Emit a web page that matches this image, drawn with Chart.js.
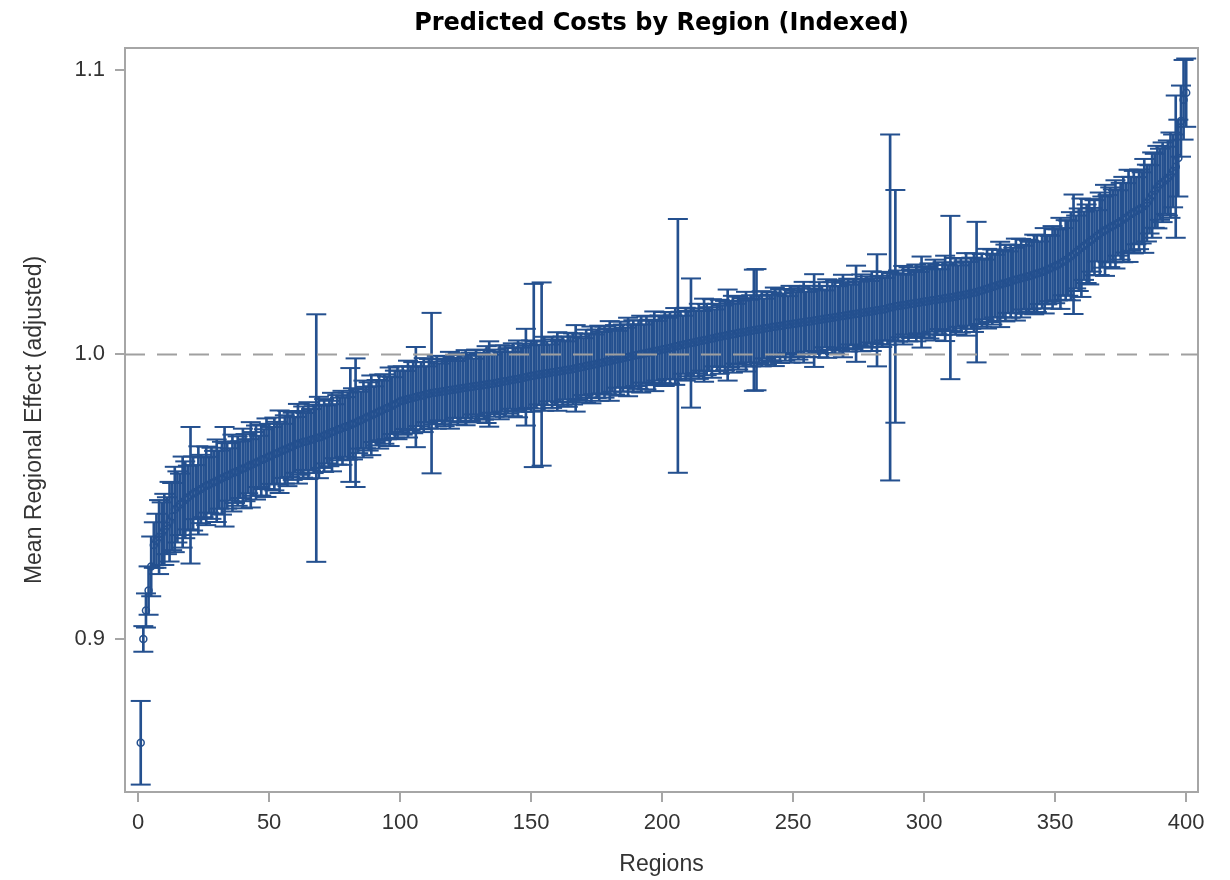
<!DOCTYPE html>
<html>
<head>
<meta charset="utf-8">
<title>Predicted Costs by Region (Indexed)</title>
<script src="https://cdn.jsdelivr.net/npm/chart.js@4.4.1/dist/chart.umd.min.js"></script>
<style>
  html, body { margin: 0; padding: 0; background: #fff; }
  #chart { display: block; }
</style>
</head>
<body>
<canvas id="chart" width="1230" height="880"></canvas>
<script>
// mean regional effect, sorted (regions 1..400)
const means = [
  0.8635, 0.9000, 0.9100, 0.9170, 0.9255, 0.9330, 0.9345, 0.9358, 0.9370, 0.9385,
  0.9398, 0.9412, 0.9430, 0.9455, 0.9464, 0.9473, 0.9481, 0.9489, 0.9497, 0.9505,
  0.9511, 0.9516, 0.9522, 0.9527, 0.9533, 0.9538, 0.9542, 0.9547, 0.9551, 0.9556,
  0.9560, 0.9565, 0.9570, 0.9573, 0.9578, 0.9583, 0.9586, 0.9590, 0.9595, 0.9599,
  0.9602, 0.9607, 0.9612, 0.9615, 0.9620, 0.9624, 0.9629, 0.9632, 0.9637, 0.9641,
  0.9645, 0.9650, 0.9653, 0.9658, 0.9661, 0.9666, 0.9669, 0.9674, 0.9677, 0.9682,
  0.9686, 0.9689, 0.9692, 0.9694, 0.9697, 0.9700, 0.9703, 0.9706, 0.9708, 0.9711,
  0.9715, 0.9719, 0.9722, 0.9727, 0.9730, 0.9735, 0.9738, 0.9742, 0.9745, 0.9748,
  0.9752, 0.9756, 0.9760, 0.9765, 0.9769, 0.9773, 0.9778, 0.9782, 0.9786, 0.9790,
  0.9795, 0.9799, 0.9803, 0.9808, 0.9812, 0.9816, 0.9820, 0.9825, 0.9830, 0.9835,
  0.9838, 0.9840, 0.9843, 0.9845, 0.9848, 0.9850, 0.9853, 0.9855, 0.9857, 0.9860,
  0.9862, 0.9864, 0.9865, 0.9867, 0.9868, 0.9870, 0.9871, 0.9873, 0.9874, 0.9876,
  0.9877, 0.9879, 0.9880, 0.9882, 0.9883, 0.9885, 0.9886, 0.9887, 0.9889, 0.9890,
  0.9891, 0.9893, 0.9894, 0.9896, 0.9897, 0.9899, 0.9900, 0.9902, 0.9904, 0.9906,
  0.9907, 0.9909, 0.9911, 0.9913, 0.9914, 0.9916, 0.9918, 0.9920, 0.9922, 0.9924,
  0.9926, 0.9928, 0.9929, 0.9931, 0.9932, 0.9934, 0.9935, 0.9937, 0.9938, 0.9940,
  0.9941, 0.9943, 0.9944, 0.9946, 0.9947, 0.9949, 0.9951, 0.9953, 0.9955, 0.9957,
  0.9959, 0.9961, 0.9963, 0.9965, 0.9967, 0.9969, 0.9971, 0.9973, 0.9975, 0.9977,
  0.9979, 0.9981, 0.9983, 0.9985, 0.9987, 0.9989, 0.9991, 0.9993, 0.9995, 0.9997,
  0.9999, 1.0001, 1.0003, 1.0005, 1.0007, 1.0009, 1.0011, 1.0013, 1.0015, 1.0017,
  1.0019, 1.0021, 1.0023, 1.0025, 1.0028, 1.0030, 1.0032, 1.0034, 1.0036, 1.0038,
  1.0040, 1.0042, 1.0044, 1.0046, 1.0048, 1.0050, 1.0052, 1.0054, 1.0056, 1.0058,
  1.0060, 1.0062, 1.0064, 1.0066, 1.0068, 1.0070, 1.0071, 1.0073, 1.0075, 1.0077,
  1.0078, 1.0080, 1.0082, 1.0083, 1.0085, 1.0087, 1.0088, 1.0090, 1.0091, 1.0093,
  1.0094, 1.0096, 1.0097, 1.0099, 1.0100, 1.0102, 1.0103, 1.0105, 1.0106, 1.0108,
  1.0109, 1.0110, 1.0112, 1.0113, 1.0115, 1.0116, 1.0117, 1.0119, 1.0120, 1.0122,
  1.0123, 1.0125, 1.0126, 1.0128, 1.0129, 1.0131, 1.0132, 1.0134, 1.0135, 1.0137,
  1.0138, 1.0140, 1.0141, 1.0143, 1.0144, 1.0146, 1.0147, 1.0149, 1.0150, 1.0152,
  1.0153, 1.0155, 1.0156, 1.0158, 1.0159, 1.0162, 1.0165, 1.0167, 1.0169, 1.0170,
  1.0172, 1.0173, 1.0175, 1.0176, 1.0178, 1.0179, 1.0181, 1.0182, 1.0184, 1.0185,
  1.0187, 1.0188, 1.0190, 1.0191, 1.0193, 1.0194, 1.0196, 1.0197, 1.0199, 1.0200,
  1.0202, 1.0204, 1.0205, 1.0207, 1.0209, 1.0211, 1.0213, 1.0215, 1.0217, 1.0219,
  1.0222, 1.0225, 1.0228, 1.0231, 1.0234, 1.0237, 1.0240, 1.0243, 1.0246, 1.0249,
  1.0251, 1.0254, 1.0257, 1.0260, 1.0263, 1.0265, 1.0268, 1.0270, 1.0273, 1.0275,
  1.0278, 1.0281, 1.0284, 1.0287, 1.0290, 1.0294, 1.0298, 1.0302, 1.0306, 1.0310,
  1.0315, 1.0320, 1.0326, 1.0332, 1.0338, 1.0345, 1.0352, 1.0360, 1.0368, 1.0375,
  1.0382, 1.0389, 1.0396, 1.0403, 1.0410, 1.0417, 1.0424, 1.0430, 1.0436, 1.0442,
  1.0447, 1.0452, 1.0457, 1.0462, 1.0468, 1.0474, 1.0480, 1.0487, 1.0494, 1.0500,
  1.0505, 1.0510, 1.0515, 1.0522, 1.0532, 1.0545, 1.0560, 1.0575, 1.0588, 1.0598,
  1.0605, 1.0612, 1.0620, 1.0630, 1.0645, 1.0660, 1.0690, 1.0820, 1.0895, 1.0920
];

// half width of each interval
const halfWidths = [
  0.0147, 0.0045, 0.0060, 0.0085, 0.0105, 0.0080, 0.0095, 0.0130, 0.0110, 0.0125,
  0.0100, 0.0140, 0.0118, 0.0150, 0.0125, 0.0108, 0.0160, 0.0135, 0.0112, 0.0240,
  0.0130, 0.0095, 0.0155, 0.0120, 0.0105, 0.0138, 0.0098, 0.0125, 0.0110, 0.0145,
  0.0102, 0.0128, 0.0175, 0.0115, 0.0092, 0.0135, 0.0108, 0.0122, 0.0100, 0.0140,
  0.0118, 0.0095, 0.0150, 0.0112, 0.0130, 0.0090, 0.0125, 0.0105, 0.0138, 0.0115,
  0.0100, 0.0128, 0.0110, 0.0145, 0.0095, 0.0120, 0.0132, 0.0105, 0.0118, 0.0098,
  0.0140, 0.0112, 0.0125, 0.0100, 0.0135, 0.0108, 0.0120, 0.0435, 0.0143, 0.0110,
  0.0128, 0.0102, 0.0115, 0.0138, 0.0095, 0.0122, 0.0110, 0.0130, 0.0105, 0.0118,
  0.0200, 0.0125, 0.0226, 0.0112, 0.0100, 0.0135, 0.0108, 0.0120, 0.0140, 0.0098,
  0.0115, 0.0130, 0.0105, 0.0122, 0.0110, 0.0138, 0.0100, 0.0118, 0.0128, 0.0108,
  0.0120, 0.0102, 0.0135, 0.0112, 0.0125, 0.0176, 0.0105, 0.0118, 0.0130, 0.0098,
  0.0122, 0.0282, 0.0110, 0.0128, 0.0100, 0.0115, 0.0123, 0.0108, 0.0135, 0.0112,
  0.0100, 0.0125, 0.0118, 0.0105, 0.0132, 0.0110, 0.0120, 0.0098, 0.0128, 0.0115,
  0.0108, 0.0122, 0.0135, 0.0150, 0.0102, 0.0118, 0.0110, 0.0130, 0.0105, 0.0125,
  0.0115, 0.0100, 0.0128, 0.0112, 0.0135, 0.0108, 0.0120, 0.0170, 0.0110, 0.0125,
  0.0322, 0.0118, 0.0105, 0.0322, 0.0130, 0.0112, 0.0100, 0.0125, 0.0115, 0.0138,
  0.0108, 0.0120, 0.0102, 0.0130, 0.0115, 0.0125, 0.0152, 0.0110, 0.0118, 0.0100,
  0.0128, 0.0112, 0.0135, 0.0105, 0.0120, 0.0132, 0.0108, 0.0125, 0.0115, 0.0140,
  0.0110, 0.0122, 0.0100, 0.0130, 0.0118, 0.0105, 0.0138, 0.0112, 0.0125, 0.0108,
  0.0120, 0.0135, 0.0102, 0.0128, 0.0115, 0.0110, 0.0140, 0.0105, 0.0122, 0.0118,
  0.0130, 0.0108, 0.0125, 0.0112, 0.0135, 0.0446, 0.0118, 0.0102, 0.0128, 0.0115,
  0.0227, 0.0120, 0.0110, 0.0132, 0.0105, 0.0146, 0.0125, 0.0112, 0.0138, 0.0100,
  0.0118, 0.0130, 0.0108, 0.0122, 0.0160, 0.0115, 0.0135, 0.0105, 0.0128, 0.0112,
  0.0120, 0.0140, 0.0110, 0.0125, 0.0213, 0.0213, 0.0118, 0.0132, 0.0105, 0.0128,
  0.0115, 0.0122, 0.0138, 0.0108, 0.0130, 0.0112, 0.0125, 0.0100, 0.0135, 0.0118,
  0.0110, 0.0128, 0.0120, 0.0142, 0.0105, 0.0125, 0.0115, 0.0163, 0.0108, 0.0132,
  0.0118, 0.0100, 0.0138, 0.0112, 0.0125, 0.0130, 0.0108, 0.0120, 0.0145, 0.0115,
  0.0128, 0.0105, 0.0122, 0.0169, 0.0112, 0.0135, 0.0118, 0.0125, 0.0108, 0.0140,
  0.0115, 0.0197, 0.0120, 0.0132, 0.0110, 0.0128, 0.0608, 0.0118, 0.0409, 0.0125,
  0.0112, 0.0138, 0.0105, 0.0130, 0.0120, 0.0115, 0.0135, 0.0108, 0.0160, 0.0125,
  0.0118, 0.0132, 0.0110, 0.0142, 0.0122, 0.0105, 0.0128, 0.0150, 0.0115, 0.0287,
  0.0120, 0.0135, 0.0108, 0.0130, 0.0118, 0.0145, 0.0112, 0.0125, 0.0138, 0.0247,
  0.0115, 0.0128, 0.0105, 0.0140, 0.0120, 0.0132, 0.0110, 0.0125, 0.0150, 0.0118,
  0.0135, 0.0108, 0.0128, 0.0115, 0.0144, 0.0120, 0.0138, 0.0112, 0.0130, 0.0125,
  0.0118, 0.0140, 0.0135, 0.0110, 0.0128, 0.0150, 0.0122, 0.0115, 0.0145, 0.0130,
  0.0125, 0.0160, 0.0118, 0.0140, 0.0132, 0.0155, 0.0210, 0.0128, 0.0145, 0.0173,
  0.0120, 0.0138, 0.0150, 0.0112, 0.0132, 0.0090, 0.0145, 0.0125, 0.0160, 0.0118,
  0.0140, 0.0128, 0.0155, 0.0115, 0.0135, 0.0150, 0.0122, 0.0162, 0.0130, 0.0145,
  0.0118, 0.0140, 0.0125, 0.0165, 0.0135, 0.0120, 0.0150, 0.0130, 0.0145, 0.0125,
  0.0140, 0.0118, 0.0132, 0.0150, 0.0128, 0.0250, 0.0135, 0.0125, 0.0140, 0.0120
];

const xTicks = [0, 50, 100, 150, 200, 250, 300, 350, 400];
const yTicks = [0.9, 1.0, 1.1];
const refValue = 1.0;

const BLUE = '#24508f';
const FRAME = '#a6a6a6';

// region number = rank
const regionIds = means.map((_, i) => i + 1);
const lower = means.map((m, i) => m - halfWidths[i]);
const upper = means.map((m, i) => m + halfWidths[i]);

const X_MIN = -5, X_MAX = 404.5;
const Y_MIN = 0.8462, Y_MAX = 1.1077;

const tickFont = { family: 'Liberation Sans', size: 22 };
const labelFont = { family: 'Liberation Sans', size: 23 };

new Chart(document.getElementById('chart'), {
  type: 'scatter',
  data: {
    datasets: [
      {
        type: 'line',
        data: [{ x: X_MIN, y: refValue }, { x: X_MAX, y: refValue }],
        borderColor: '#a0a0a0',
        borderWidth: 2,
        borderDash: [20, 12],
        pointRadius: 0,
        order: 1,
      },
      {
        // circles at the means
        data: regionIds.map((r, i) => ({ x: r, y: means[i] })),
        pointStyle: 'circle',
        pointRadius: 3.5,
        borderWidth: 1.5,
        borderColor: BLUE,
        backgroundColor: 'rgba(0,0,0,0)',
        order: 2,
      },
      {
        // upper caps
        data: regionIds.map((r, i) => ({ x: r, y: upper[i] })),
        pointStyle: 'line',
        pointRadius: 10,
        borderWidth: 2,
        borderColor: BLUE,
        order: 3,
      },
      {
        // lower caps
        data: regionIds.map((r, i) => ({ x: r, y: lower[i] })),
        pointStyle: 'line',
        pointRadius: 10,
        borderWidth: 2,
        borderColor: BLUE,
        order: 3,
      },
      {
        // interval stems
        type: 'bar',
        data: regionIds.map((r, i) => ({ x: r, y: [lower[i], upper[i]] })),
        backgroundColor: BLUE,
        borderWidth: 0,
        barThickness: 2,
        order: 4,
      },
    ],
  },
  options: {
    responsive: false,
    animation: false,
    devicePixelRatio: 1,
    layout: { padding: { left: 0, right: 32, top: 0, bottom: 0 } },
    plugins: {
      legend: { display: false },
      tooltip: { enabled: false },
      title: {
        display: true,
        fullSize: false,
        text: 'Predicted Costs by Region (Indexed)',
        color: '#000',
        font: { family: 'DejaVu Sans', size: 24, weight: 'bold' },
        padding: { top: 9, bottom: 10.2 },
      },
    },
    scales: {
      x: {
        type: 'linear',
        min: X_MIN,
        max: X_MAX,
        offset: false,
        afterBuildTicks: s => { s.ticks = xTicks.map(v => ({ value: v })); },
        afterFit: s => { s.height = 88; },
        ticks: { font: tickFont, color: '#333', padding: 8, maxRotation: 0, autoSkip: false, callback: v => String(v) },
        grid: { display: true, offset: false, drawOnChartArea: false, drawTicks: true, tickLength: 10, color: FRAME, lineWidth: 2 },
        border: { display: true, color: FRAME, width: 2 },
        title: { display: true, text: 'Regions', font: labelFont, color: '#333', padding: { top: 0, bottom: 2 } },
      },
      y: {
        type: 'linear',
        min: Y_MIN,
        max: Y_MAX,
        afterBuildTicks: s => { s.ticks = yTicks.map(v => ({ value: v })); },
        afterFit: s => { s.width = 125; },
        ticks: { font: tickFont, color: '#333', padding: 10, autoSkip: false, callback: v => v.toFixed(1) },
        grid: { display: true, drawOnChartArea: false, drawTicks: true, tickLength: 10, color: FRAME, lineWidth: 2 },
        border: { display: true, color: FRAME, width: 2 },
        title: { display: true, text: 'Mean Regional Effect (adjusted)', font: labelFont, color: '#333', padding: { top: 21, bottom: 0 } },
      },
      // top and right frame
      xTop: {
        type: 'linear',
        position: 'top',
        min: X_MIN,
        max: X_MAX,
        afterFit: s => { s.height = 0; },
        ticks: { display: false },
        grid: { display: false, drawTicks: false },
        border: { display: true, color: FRAME, width: 2 },
      },
      yRight: {
        type: 'linear',
        position: 'right',
        min: Y_MIN,
        max: Y_MAX,
        afterFit: s => { s.width = 0; },
        ticks: { display: false },
        grid: { display: false, drawTicks: false },
        border: { display: true, color: FRAME, width: 2 },
      },
    },
  },
});
</script>
</body>
</html>
